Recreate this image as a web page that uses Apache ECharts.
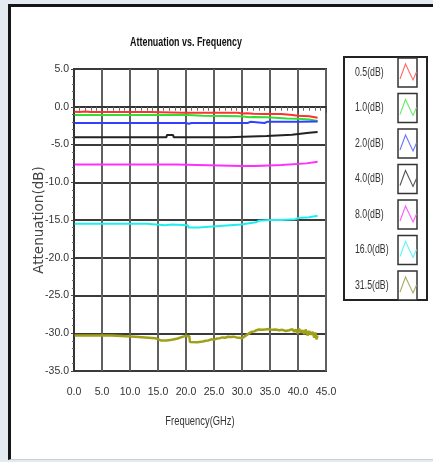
<!DOCTYPE html>
<html><head><meta charset="utf-8">
<script src="https://cdn.jsdelivr.net/npm/echarts@6/dist/echarts.min.js"></script>
<style>
html,body{margin:0;padding:0;background:#e4eaf1;width:433px;height:462px;overflow:hidden;position:relative}
#frame{position:absolute;left:8px;top:4px;width:440px;height:452px;background:#fff;border-left:3px solid #151515;border-top:3px solid #151515;border-bottom:1px solid #cfcfcf}
#chart{position:absolute;left:0;top:0;width:433px;height:462px}
</style></head>
<body><div id="frame"></div><div id="chart"></div>
<script>
// ---- data ----
const seriesNames = ['0.5(dB)','1.0(dB)','2.0(dB)','4.0(dB)','8.0(dB)','16.0(dB)','31.5(dB)'];
const xTicks = [0,5,10,15,20,25,30,35,40,45];
const yTicks = [5,0,-5,-10,-15,-20,-25,-30,-35];

const freq05 = [0.1,1,2,3,13.6,13.6,19.5,19.6,19.8,29.3,29.4,30,31,32,34,37,37.1,39,40,42,43.5];
const att05  = [-0.65,-0.7,-0.62,-0.7,-0.7,-0.8,-0.8,-0.72,-0.8,-0.8,-0.95,-0.9,-0.85,-0.92,-0.95,-0.95,-1.1,-1.1,-1.2,-1.25,-1.45];

const freq10 = [0.1,20.4,20.4,23,27,29.5,29.6,31.5,32,34.5,34.6,38,40,42,43.5];
const att10  = [-1.1,-1.1,-1.22,-1.2,-1.22,-1.25,-1.4,-1.4,-1.35,-1.4,-1.55,-1.55,-1.6,-1.7,-1.9];

const freq20 = [0.1,20,20.5,21,31,31.5,32.5,34,34.5,40,43.5];
const att20  = [-2.15,-2.15,-2.25,-2.15,-2.15,-2.0,-2.05,-2.15,-2.0,-2.0,-1.95];

const freq40 = [0.1,16.5,16.6,17.7,17.8,27.5,27.6,34.4,34.5,38.9,39,42,43.5];
const att40  = [-4.05,-4.05,-3.75,-3.75,-4.05,-4.05,-3.88,-3.88,-3.7,-3.7,-3.5,-3.45,-3.35];

const freq80 = [0.1,18.2,18.3,29.8,29.9,30.2,32.5,32.6,37,37.1,41.5,41.6,43.5];
const att80  = [-7.65,-7.65,-7.85,-7.85,-7.6,-7.85,-7.85,-7.7,-7.7,-7.5,-7.5,-7.35,-7.3];

const freq160 = [0.1,13,13.1,16.3,16.4,17.5,20.3,20.5,22.2,22.4,26.6,26.8,29.8,30,32.5,33,35,37,39.5,40,42,43.5];
const att160  = [-15.5,-15.5,-15.7,-15.7,-15.55,-15.6,-15.7,-16.0,-16.0,-15.75,-15.75,-15.6,-15.6,-15.35,-15.3,-15.1,-15.0,-15.0,-14.9,-14.75,-14.65,-14.45];

const freq315 = [0.1,6.7,6.8,10.9,11,14.5,15.5,16.5,17.5,18.5,19.5,20,20.6,20.7,22,23,23.5,24,24.5,25,25.5,26,26.5,27,27.5,28,28.5,29,29.5,30,30.2,30.6,31,31.4,31.8,32.2,32.6,33,33.3,33.6,33.9,34.2,34.5,34.8,35.1,35.4,35.7,36,36.3,36.6,36.9,37.2,37.5,37.8,38.1,38.4,38.7,39,39.3,39.6,39.9,40.2,40.5,40.8,41.1,41.4,41.7,42,42.3,42.6,42.9,43.1,43.3,43.5];
const att315  = [-30.3,-30.3,-30.45,-30.45,-30.6,-30.65,-30.95,-30.95,-30.85,-30.7,-30.45,-30.35,-30.4,-31.15,-31.2,-31.1,-31.0,-30.95,-30.8,-30.85,-30.7,-30.65,-30.55,-30.6,-30.45,-30.5,-30.45,-30.55,-30.6,-30.65,-30.5,-30.35,-30.15,-29.95,-29.8,-29.75,-29.6,-29.5,-29.35,-29.55,-29.4,-29.5,-29.3,-29.45,-29.35,-29.55,-29.3,-29.5,-29.4,-29.6,-29.35,-29.55,-29.45,-29.7,-29.5,-29.6,-29.75,-29.45,-29.8,-29.5,-30.0,-29.4,-29.9,-29.6,-30.1,-29.5,-30.3,-29.7,-30.2,-29.8,-30.6,-29.9,-30.8,-30.3];

const lineColors = ['#ff3030','#30e030','#3040ff','#222222','#ff30ff','#20eeee','#a0a018'];
const iconColors = ['#ff6a6a','#6be86b','#6a78ff','#555555','#ff5cff','#5cf6f6','#aaaa66'];

const freqs = [freq05,freq10,freq20,freq40,freq80,freq160,freq315];
const atts = [att05,att10,att20,att40,att80,att160,att315];

const SANS = "'Liberation Sans',Arial,sans-serif";

const chart = echarts.init(document.getElementById('chart'), null, {renderer:'canvas'});

const series = seriesNames.map((n,i)=>({
  name:n, type:'line', showSymbol:false, symbol:'none', animation:false,
  lineStyle:{color:lineColors[i], width: i===6 ? 2.5 : 2},
  data: freqs[i].map((f,k)=>[f, atts[i][k]]), z: 5
}));

// legend drawn as graphic
const g = [];
const lgTop = 58, lgStep = 35.5;
g.push({type:'rect', shape:{x:344,y:57,width:83,height:243}, style:{fill:'#fff', stroke:'#222', lineWidth:2}, z:10});
seriesNames.forEach((n,i)=>{
  const by = lgTop + i*lgStep;
  g.push({type:'rect', shape:{x:398,y:by,width:19,height:29}, style:{fill:'#fff', stroke:'#333', lineWidth:1.5}, z:11});
  g.push({type:'polyline', shape:{points:[[400,by+21],[405.5,by+6],[413,by+22],[416.5,by+14]]}, style:{stroke:iconColors[i], lineWidth:1.1, fill:null}, z:12});
  g.push({type:'text', x:355, y:by+14.5, scaleX:0.7, style:{text:n, fill:'#333', font:"12.5px "+SANS, textAlign:'left', textVerticalAlign:'middle'}, z:12});
});
g.push({type:'text', x:186, y:42, scaleX:0.66, style:{text:'Attenuation vs. Frequency', fill:'#111', font:"bold 13.5px "+SANS, textAlign:'center', textVerticalAlign:'middle'}, z:12});
g.push({type:'text', x:200, y:422, scaleX:0.75, style:{text:'Frequency(GHz)', fill:'#333', font:"12.5px "+SANS, textAlign:'center', textVerticalAlign:'middle'}, z:12});

chart.setOption({
  animation:false,
  backgroundColor:'transparent',
  grid:{left:74, top:69, width:252, height:302, show:true, borderColor:'#333', borderWidth:2, backgroundColor:'#fff'},
  xAxis:{type:'value', min:0, max:45, interval:5,
    axisLine:{show:true, lineStyle:{color:'#333', width:2}},
    axisTick:{show:true, inside:false, length:6, lineStyle:{color:'#444'}},
    minorTick:{show:true, splitNumber:5, length:4, lineStyle:{color:'#666'}},
    axisLabel:{margin:16, fontFamily:SANS, fontSize:10.5, color:'#333', formatter:v=>xTicks.includes(v)?v.toFixed(1):''},
    splitLine:{show:true, lineStyle:{color:'#606060', width:2}}
  },
  yAxis:{type:'value', min:-35, max:5, interval:5,
    name:'Attenuation(dB)', nameLocation:'middle', nameGap:28, nameRotate:90, nameMoveOverlap:false,
    nameTextStyle:{fontFamily:'DejaVu Sans', fontSize:13.5, color:'#444'},
    axisLine:{show:true, lineStyle:{color:'#333', width:2}},
    axisTick:{show:true, inside:false, length:3, lineStyle:{color:'#444'}},
    minorTick:{show:true, splitNumber:5, length:2, lineStyle:{color:'#666'}},
    axisLabel:{margin:5, fontFamily:SANS, fontSize:10.5, color:'#333', formatter:v=>yTicks.includes(v)?v.toFixed(1):''},
    splitLine:{show:true, lineStyle:{color:'#3a3a3a', width:2}}
  },
  series: series,
  graphic: g
});
</script>
</body></html>
